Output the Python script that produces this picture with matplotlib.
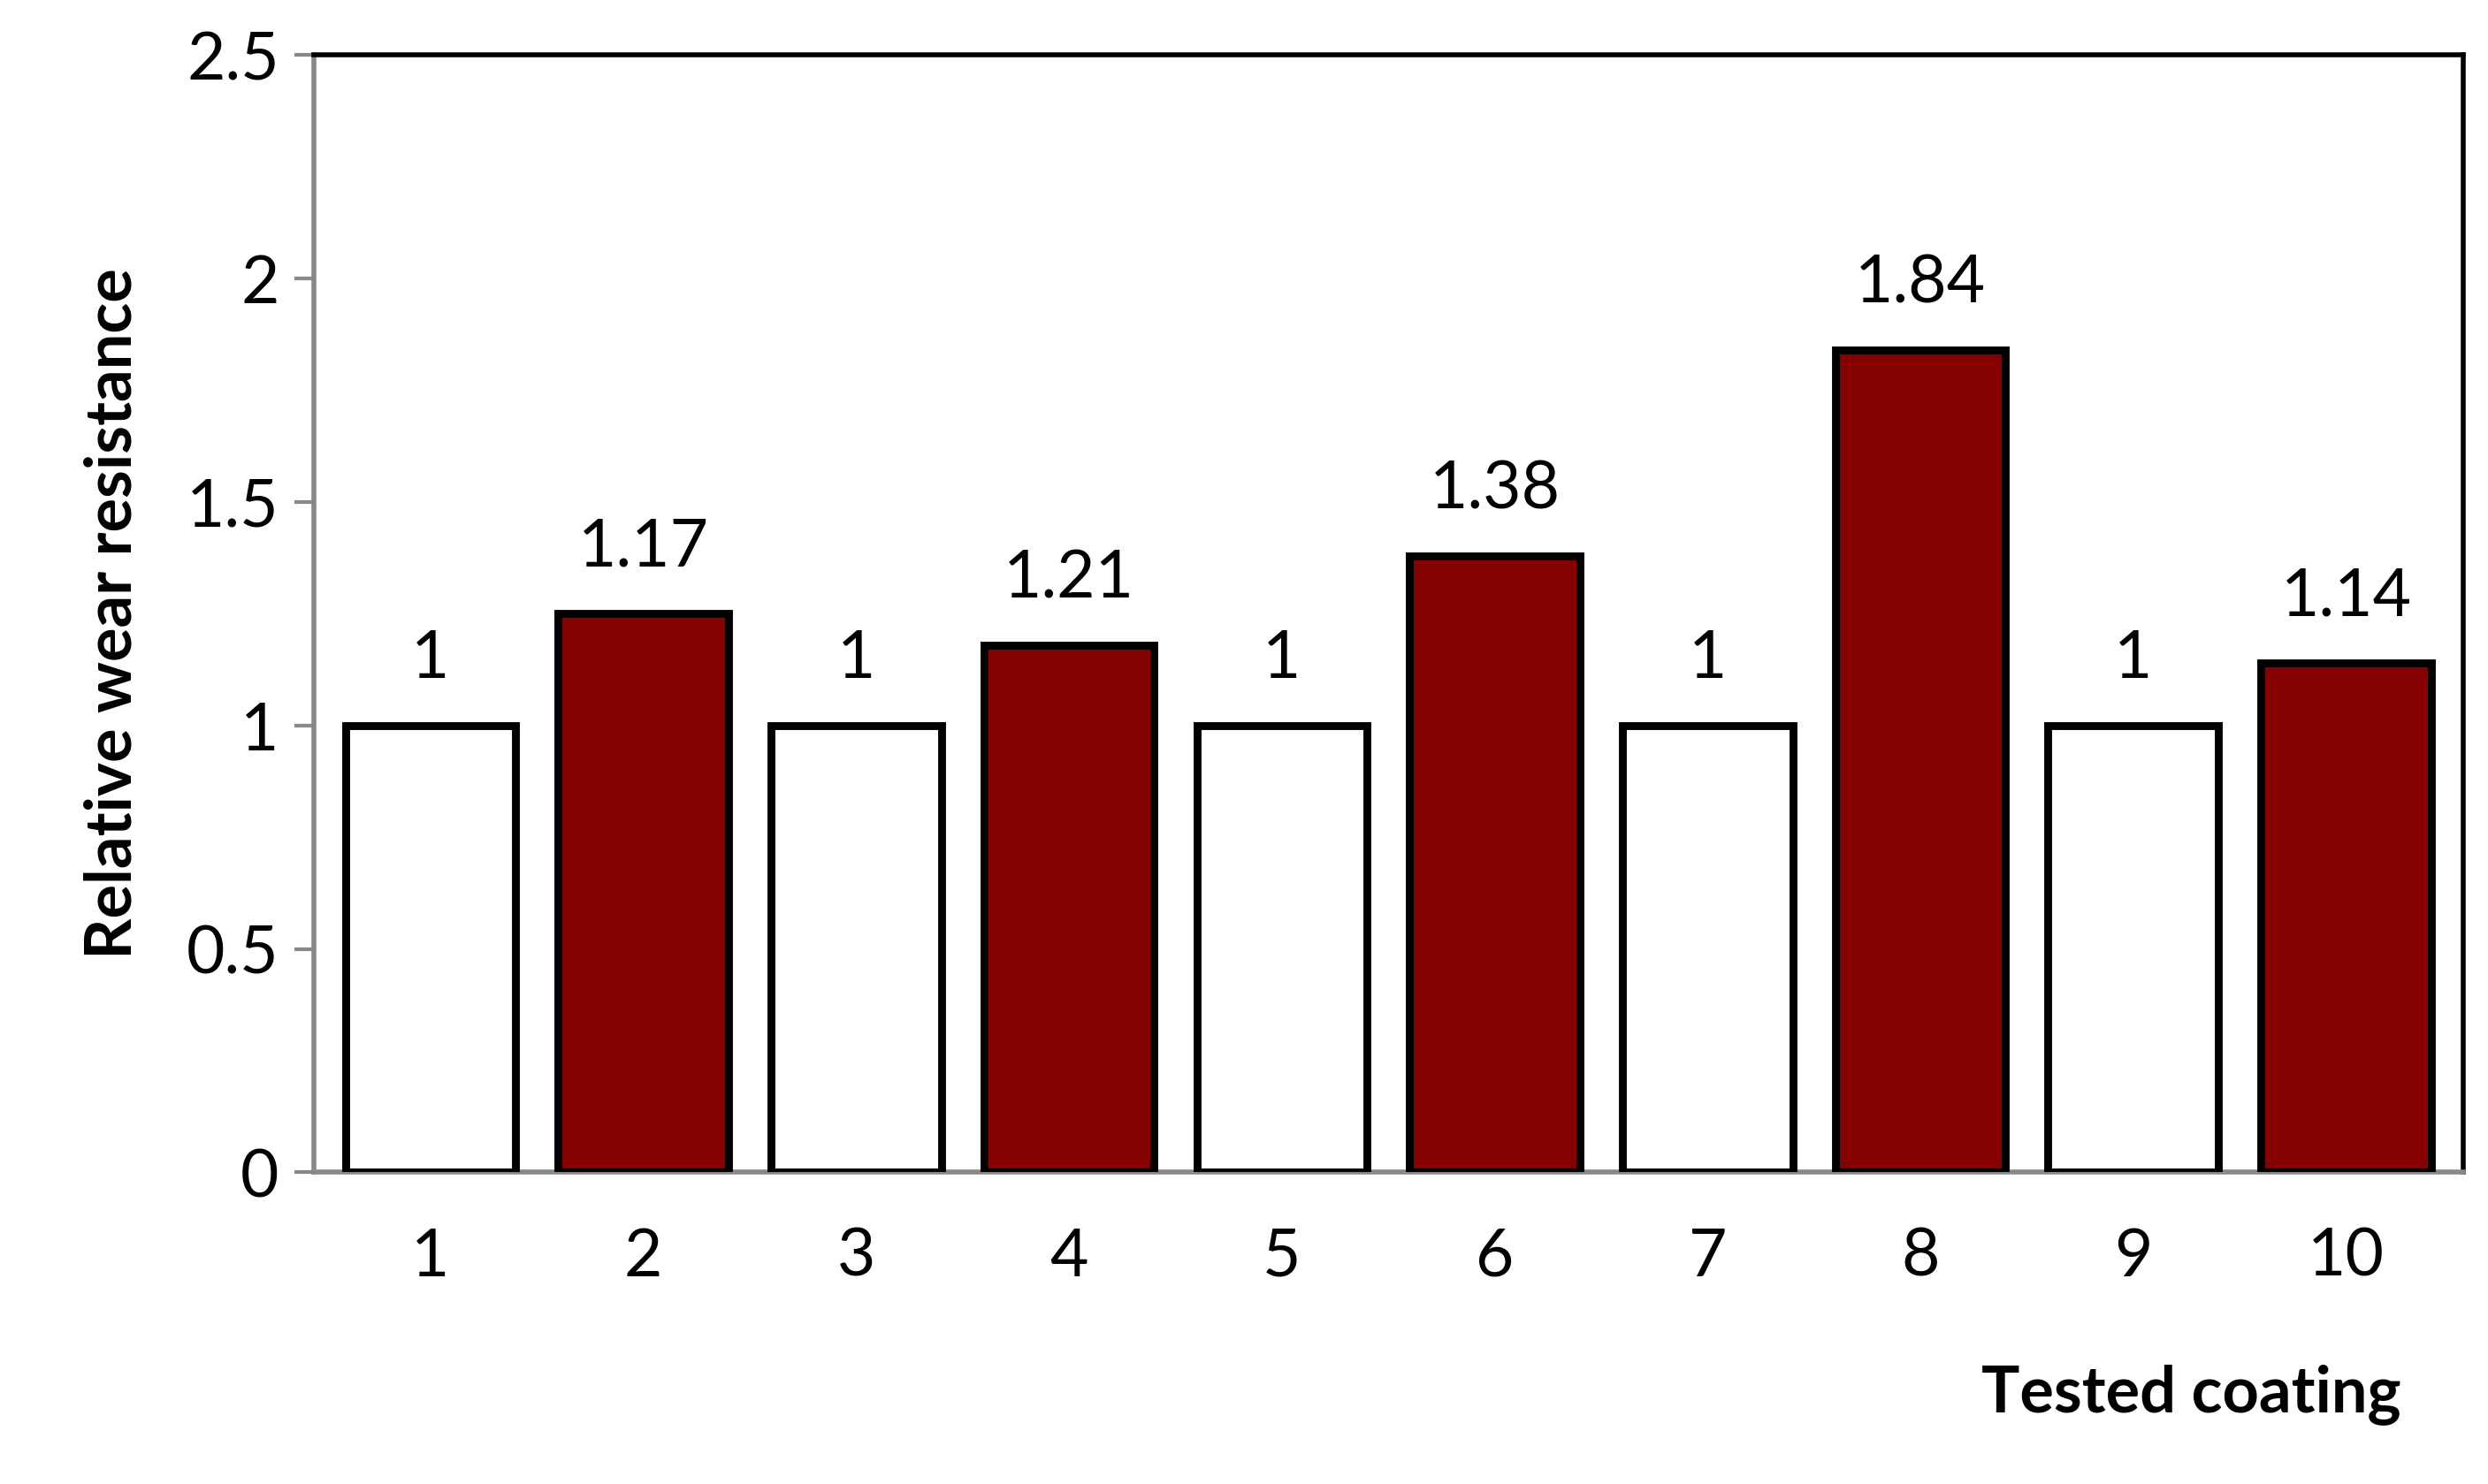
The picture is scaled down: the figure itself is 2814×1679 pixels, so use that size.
import matplotlib
matplotlib.use("Agg")
import matplotlib.pyplot as plt

coatings = ["1","2","3","4","5","6","7","8","9","10"]
heights = [1, 1.25, 1, 1.18, 1, 1.38, 1, 1.84, 1, 1.14]
labels = ["1","1.17","1","1.21","1","1.38","1","1.84","1","1.14"]
colors = ["white","#850000"]*5

plt.rcParams['font.family'] = ['Lato', 'DejaVu Sans']
fig = plt.figure(figsize=(14.07, 8.395), dpi=200)
ax = fig.add_axes([0.126, 0.210, 0.864, 0.753])
x = range(len(coatings))
ax.bar(x, heights, width=0.8, color=colors, edgecolor="black", linewidth=3.2, zorder=3)
for i, (h, l) in enumerate(zip(heights, labels)):
    ax.text(i, h + 0.08, l, ha="center", va="bottom", fontsize=27)
ax.set_xlim(-0.55, 9.55)
ax.set_ylim(0, 2.5)
ax.set_yticks([0, 0.5, 1, 1.5, 2, 2.5])
ax.set_yticklabels(["0","0.5","1","1.5","2","2.5"], fontsize=27)
ax.set_xticks(list(x))
ax.set_xticklabels(coatings, fontsize=27)
ax.tick_params(axis="x", length=0, pad=22)
ax.tick_params(axis="y", length=8, width=1.5, color="#888888", pad=6)
for s in ["top", "right"]:
    ax.spines[s].set_color("black"); ax.spines[s].set_linewidth(2)
for s in ["left", "bottom"]:
    ax.spines[s].set_color("#888888"); ax.spines[s].set_linewidth(2)
ax.set_ylabel("Relative wear resistance", fontsize=26, fontweight="bold", labelpad=18)
fig.text(0.965, 0.04, "Tested coating", ha="right", va="bottom", fontsize=26, fontweight="bold")
fig.savefig("out.png", dpi=200)
